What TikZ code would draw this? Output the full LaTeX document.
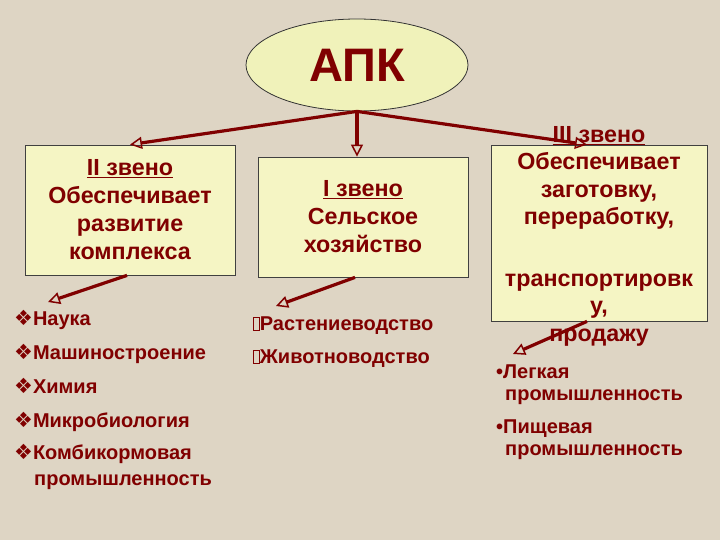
\documentclass[tikz,border=0pt]{standalone}
\usepackage{fontspec}
\setmainfont{Liberation Sans}
\newfontfamily\dejavu{DejaVu Sans}
\usetikzlibrary{arrows.meta,shapes.geometric}
\definecolor{bg}{RGB}{222,213,196}
\definecolor{dred}{RGB}{128,0,0}
\definecolor{boxfill}{RGB}{245,245,196}
\definecolor{ellfill}{RGB}{240,242,186}
\newcommand\tofubox{{\setlength\fboxsep{0pt}\setlength\fboxrule{0.6pt}\fbox{\rule{0pt}{12pt}\hspace{5.5pt}}}}
\newcommand\dia{{\dejavu\fontsize{21}{22}\selectfont ❖}}
\begin{document}
\begin{tikzpicture}[x=1pt,y=-1pt,
  boxstyle/.style={draw=black!75, line width=0.8pt, fill=boxfill, align=center, inner sep=0pt,
     font=\fontsize{23.3}{28}\selectfont\bfseries, text=dred},
  bigtext/.style={align=center, inner sep=0pt, font=\fontsize{23.3}{27.5}\selectfont\bfseries, text=dred},
  item/.style={anchor=west, inner sep=0pt, font=\fontsize{20}{22}\selectfont\bfseries, text=dred,
     text height=14pt, text depth=4pt},
  conn/.style={draw=dred, line width=3.2pt, -{Triangle[open, length=12pt, width=12pt, line width=1.5pt]}}]
\fill[bg] (0,0) rectangle (720,540);
\useasboundingbox (0,0) rectangle (720,540);

\node[ellipse, draw=black!80, line width=0.8pt, fill=ellfill, minimum width=222pt, minimum height=92pt,
  font=\fontsize{47}{50}\selectfont\bfseries, text=dred] (apk) at (357,65) {АПК};

\node[boxstyle, minimum width=210pt, minimum height=130pt] (b2) at (130,210)
  {\underline{II звено}\\Обеспечивает\\развитие\\комплекса};
\node[boxstyle, minimum width=210pt, minimum height=120pt] (b1) at (363,217)
  {\underline{I звено}\\Сельское\\хозяйство};
\node[boxstyle, minimum width=216pt, minimum height=176pt] (b3) at (599,233) {};
\node[bigtext] (t3) at (599,236)
  {\underline{III звено}\\Обеспечивает\\заготовку,\\переработку,\\[34pt]транспортировк\\у,\\продажу};

% left list
\node[item] (l1) at (14,320) {\dia Наука};
\node[item] (l2) at (14,354) {\dia Машиностроение};
\node[item] (l3) at (14,388) {\dia Химия};
\node[item] (l4) at (14,422) {\dia Микробиология};
\node[item] (l5) at (14,454) {\dia Комбикормовая};
\node[item] (l6) at (34,480) {промышленность};

% middle list
\node[item] (m1) at (253,325) {\tofubox Растениеводство};
\node[item] (m2) at (253,358) {\tofubox Животноводство};

% right list
\node[item] (r1) at (496,373) {•Легкая};
\node[item] (r2) at (505,395) {промышленность};
\node[item] (r3) at (496,428) {•Пищевая};
\node[item] (r4) at (505,450) {промышленность};

\coordinate (e2) at (48,302);
\coordinate (e1) at (276,306);
\coordinate (e3) at (513,354);

\draw[conn] (apk.south) -- (b2.north);
\draw[conn] (apk.south) -- (apk.south |- b1.north);
\draw[conn] (apk.south) -- ([xshift=-12pt]b3.north);

\draw[conn] ([xshift=-3pt]b2.south) -- (e2);
\draw[conn] ([xshift=-8pt]b1.south) -- (e1);
\draw[conn] ([xshift=-12pt]b3.south) -- (e3);
\end{tikzpicture}
\end{document}
